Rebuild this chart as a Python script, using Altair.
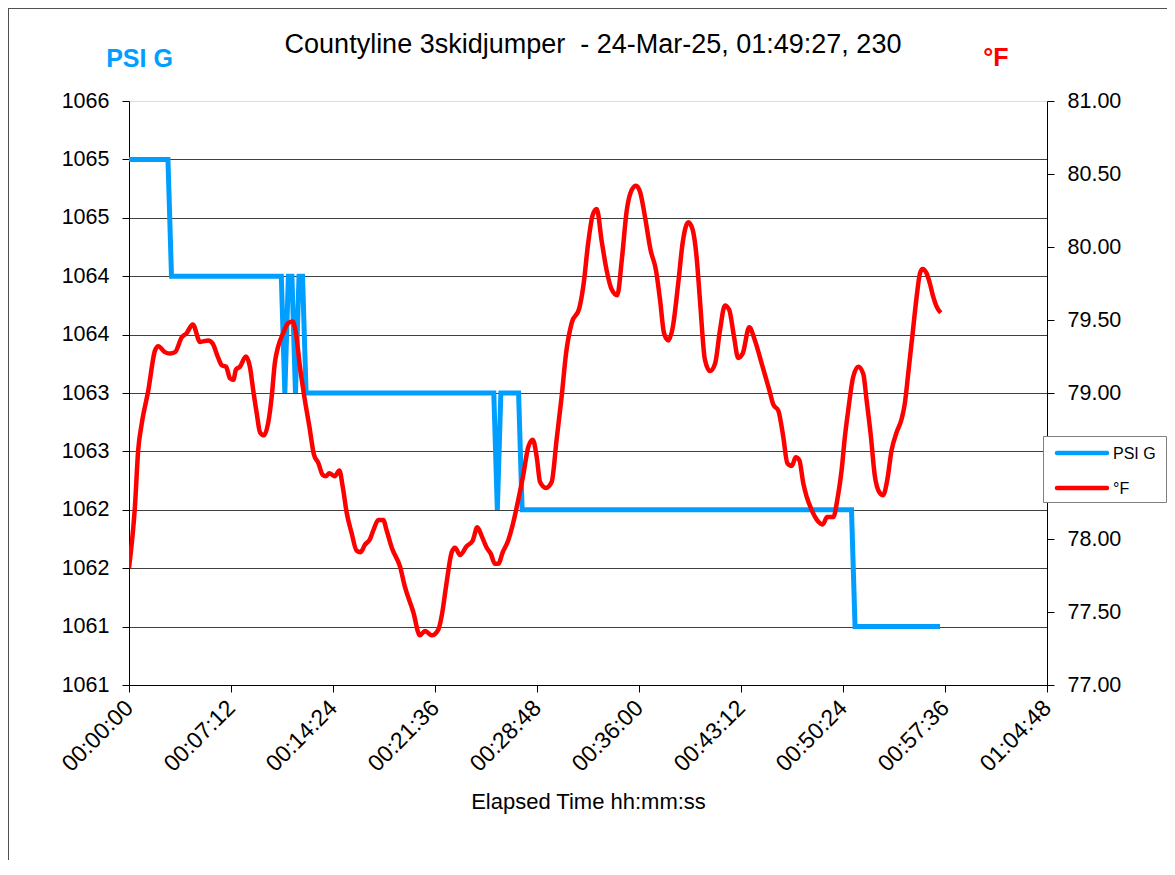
import altair as alt
import pandas as pd

BLUE = "#009EFF"
RED = "#FF0000"
FONT = "Liberation Sans"

# ---- data -------------------------------------------------------------
psi_t = [0, 165, 180, 645, 660, 675, 690, 705, 720, 735, 750, 1545, 1560,
         1575, 1650, 1665, 3060, 3075, 3435]
psi_v = [1065.5, 1065.5, 1064.5, 1064.5, 1063.5, 1064.5, 1064.5, 1063.5,
         1064.5, 1064.5, 1063.5, 1063.5, 1062.5, 1063.5, 1063.5, 1062.5,
         1062.5, 1061.5, 1061.5]

temp_t = [0, 25, 39, 54, 82, 110, 124, 152, 174, 195,
          223, 244, 270, 301, 336, 354, 378, 393, 411, 428,
          442, 453, 470, 495, 512, 526, 541, 555, 572, 590,
          604, 618, 632, 653, 675, 693, 707, 724, 745, 764,
          783, 802, 820, 834, 848, 872, 891, 905, 922, 943,
          964, 981, 999, 1021, 1035, 1056, 1077, 1091, 1113, 1148,
          1169, 1204, 1232, 1254, 1282, 1310, 1324, 1345, 1367, 1381,
          1402, 1430, 1456, 1475, 1494, 1515, 1532, 1550, 1564, 1583,
          1606, 1627, 1649, 1670, 1691, 1710, 1727, 1741, 1766, 1790,
          1811, 1832, 1851, 1875, 1907, 1924, 1945, 1964, 1981, 2002,
          2023, 2044, 2068, 2087, 2108, 2129, 2147, 2164, 2185, 2209,
          2232, 2249, 2266, 2284, 2303, 2326, 2345, 2369, 2387, 2404,
          2418, 2439, 2461, 2482, 2503, 2524, 2542, 2562, 2580, 2599,
          2627, 2651, 2680, 2712, 2729, 2750, 2771, 2788, 2807, 2824,
          2839, 2856, 2870, 2891, 2919, 2938, 2957, 2983, 3000, 3018,
          3032, 3046, 3067, 3089, 3110, 3124, 3141, 3159, 3178, 3194,
          3211, 3230, 3251, 3272, 3286, 3300, 3319, 3336, 3350, 3361,
          3378, 3392, 3406, 3421, 3438]
temp_v = [77.80, 78.22, 78.61, 78.79, 79.02, 79.29, 79.32, 79.28, 79.27, 79.28,
          79.38, 79.41, 79.47, 79.35, 79.36, 79.34, 79.24, 79.19, 79.18, 79.10,
          79.09, 79.16, 79.18, 79.25, 79.18, 79.02, 78.86, 78.73, 78.71, 78.80,
          78.97, 79.21, 79.32, 79.41, 79.48, 79.49, 79.41, 79.18, 78.95, 78.77,
          78.58, 78.52, 78.44, 78.43, 78.45, 78.43, 78.47, 78.36, 78.18, 78.04,
          77.92, 77.91, 77.96, 78.00, 78.06, 78.13, 78.13, 78.06, 77.94, 77.81,
          77.67, 77.50, 77.34, 77.37, 77.34, 77.38, 77.47, 77.70, 77.91, 77.94,
          77.89, 77.95, 77.99, 78.08, 78.02, 77.94, 77.90, 77.83, 77.83, 77.91,
          77.99, 78.11, 78.27, 78.44, 78.63, 78.68, 78.56, 78.39, 78.35, 78.39,
          78.68, 78.97, 79.27, 79.48, 79.58, 79.73, 80.03, 80.22, 80.26, 80.04,
          79.84, 79.71, 79.67, 79.91, 80.25, 80.39, 80.42, 80.38, 80.21, 79.98,
          79.84, 79.64, 79.41, 79.36, 79.45, 79.75, 80.03, 80.17, 80.12, 79.93,
          79.64, 79.23, 79.15, 79.20, 79.43, 79.60, 79.57, 79.39, 79.24, 79.27,
          79.45, 79.36, 79.20, 79.02, 78.92, 78.88, 78.70, 78.52, 78.50, 78.56,
          78.54, 78.38, 78.29, 78.20, 78.12, 78.10, 78.15, 78.15, 78.27, 78.47,
          78.70, 78.88, 79.11, 79.18, 79.13, 78.95, 78.72, 78.43, 78.32, 78.30,
          78.40, 78.61, 78.73, 78.82, 78.93, 79.13, 79.41, 79.66, 79.82, 79.85,
          79.82, 79.75, 79.66, 79.59, 79.55]

x_ticks = [0, 432, 864, 1296, 1728, 2160, 2592, 3024, 3456, 3888]
psi_ticks = [1061, 1061.5, 1062, 1062.5, 1063, 1063.5, 1064, 1064.5, 1065, 1065.5, 1066]
temp_ticks = [77, 77.5, 78, 78.5, 79, 79.5, 80, 80.5, 81]
series_names = ["PSI G", "°F"]
series_colors = [BLUE, RED]
title_text = "Countyline 3skidjumper\u00a0 - 24-Mar-25, 01:49:27, 230"

psi_df = pd.DataFrame({"t": psi_t, "v": psi_v})
temp_df = pd.DataFrame({"t": temp_t, "v": temp_v})

W, H = 918, 584

x_enc = alt.X(
    "t:Q",
    scale=alt.Scale(domain=[0, 3888], nice=False, zero=False),
    axis=alt.Axis(
        values=x_ticks,
        labelExpr="utcFormat(datum.value * 1000, '%H:%M:%S')",
        labelAngle=-45, labelAlign="right", labelBaseline="middle",
        labelFontSize=23, labelFont=FONT, labelColor="black", labelPadding=12,
        tickSize=7, tickColor="black", domainColor="black",
        grid=False,
        title="Elapsed Time hh:mm:ss", titleFontSize=22, titleFont=FONT,
        titleFontWeight="normal", titleColor="black",
        titleX=W / 2, titleY=123, titleBaseline="alphabetic", titleAnchor="middle",
    ),
)

psi_line = alt.Chart(psi_df).mark_line(strokeWidth=5, clip=True, color=BLUE).encode(
    x=x_enc,
    y=alt.Y(
        "v:Q",
        scale=alt.Scale(domain=[1061, 1066], nice=False, zero=False),
        axis=alt.Axis(
            orient="left", values=psi_ticks, labelExpr="floor(datum.value)",
            labelFontSize=21.5, labelFont=FONT, labelColor="black", labelPadding=13,
            tickSize=7, tickColor="black", domainColor="black",
            grid=True, gridColor="#404040", gridWidth=1,
            gridOpacity={"condition": {"test": "datum.value >= 1065.9", "value": 0}, "value": 1},
            title="PSI G", titleAngle=0, titleX=10, titleY=-35,
            titleAlign="center", titleBaseline="alphabetic",
            titleColor=BLUE, titleFontSize=25, titleFontWeight="bold", titleFont=FONT,
        ),
    ),
    order="t:Q",
)

temp_line = alt.Chart(temp_df).mark_line(
    strokeWidth=4.5, interpolate="monotone", clip=True, color=RED
).encode(
    x=x_enc,
    y=alt.Y(
        "v:Q",
        scale=alt.Scale(domain=[77, 81], nice=False, zero=False),
        axis=alt.Axis(
            orient="right", values=temp_ticks, format=".2f",
            labelFontSize=21.5, labelFont=FONT, labelColor="black", labelPadding=13,
            tickSize=7, tickColor="black", domainColor="black",
            grid=False,
            title="°F", titleAngle=0, titleX=-51.5, titleY=-36,
            titleAlign="center", titleBaseline="alphabetic",
            titleColor=RED, titleFontSize=25, titleFontWeight="bold", titleFont=FONT,
        ),
    ),
    order="t:Q",
)

one = alt.Data(values=[{}])

# outer chart frame (top and left edges are visible in the reference)
frame_top = alt.Chart(one).mark_rule(color="#505050", strokeWidth=1).encode(
    x=alt.value(-121), x2=alt.value(W + 120), y=alt.value(-92.5)
)
frame_left = alt.Chart(one).mark_rule(color="#505050", strokeWidth=1).encode(
    x=alt.value(-120.5), y=alt.value(-93), y2=alt.value(H + 175)
)

# legend box (drawn like the spreadsheet legend)
leg_box = alt.Chart(one).mark_rect(fill="white", stroke="#808080", strokeWidth=1).encode(
    x=alt.value(914.5), x2=alt.value(1037.5), y=alt.value(335.5), y2=alt.value(401.5)
)
leg_layers = [leg_box]
for i, (name, col) in enumerate(zip(series_names, series_colors)):
    yy = 352 + 35 * i
    leg_layers.append(
        alt.Chart(one).mark_rule(color=col, strokeWidth=4.5, strokeCap="round").encode(
            x=alt.value(928), x2=alt.value(978), y=alt.value(yy)
        )
    )
    leg_layers.append(
        alt.Chart(one).mark_text(
            align="left", baseline="middle", font=FONT, fontSize=16, color="black"
        ).encode(x=alt.value(984), y=alt.value(yy + 1), text=alt.value(name))
    )

chart = (
    alt.layer(psi_line, temp_line, frame_top, frame_left, *leg_layers)
    .resolve_scale(y="independent")
    .properties(
        width=W, height=H,
        title=alt.TitleParams(
            text=title_text,
            fontSize=27, font=FONT, fontWeight="normal", color="black",
            anchor="middle", frame="group", baseline="alphabetic", offset=0, dy=72, dx=5,
        ),
        autosize=alt.AutoSizeParams(type="none"),
        padding={"left": 121, "top": 93, "right": 120, "bottom": 175},
    )
    .configure_view(stroke=None)
    .configure(background="white")
)

chart.save("out.html", embed_options={"renderer": "svg", "actions": False})
